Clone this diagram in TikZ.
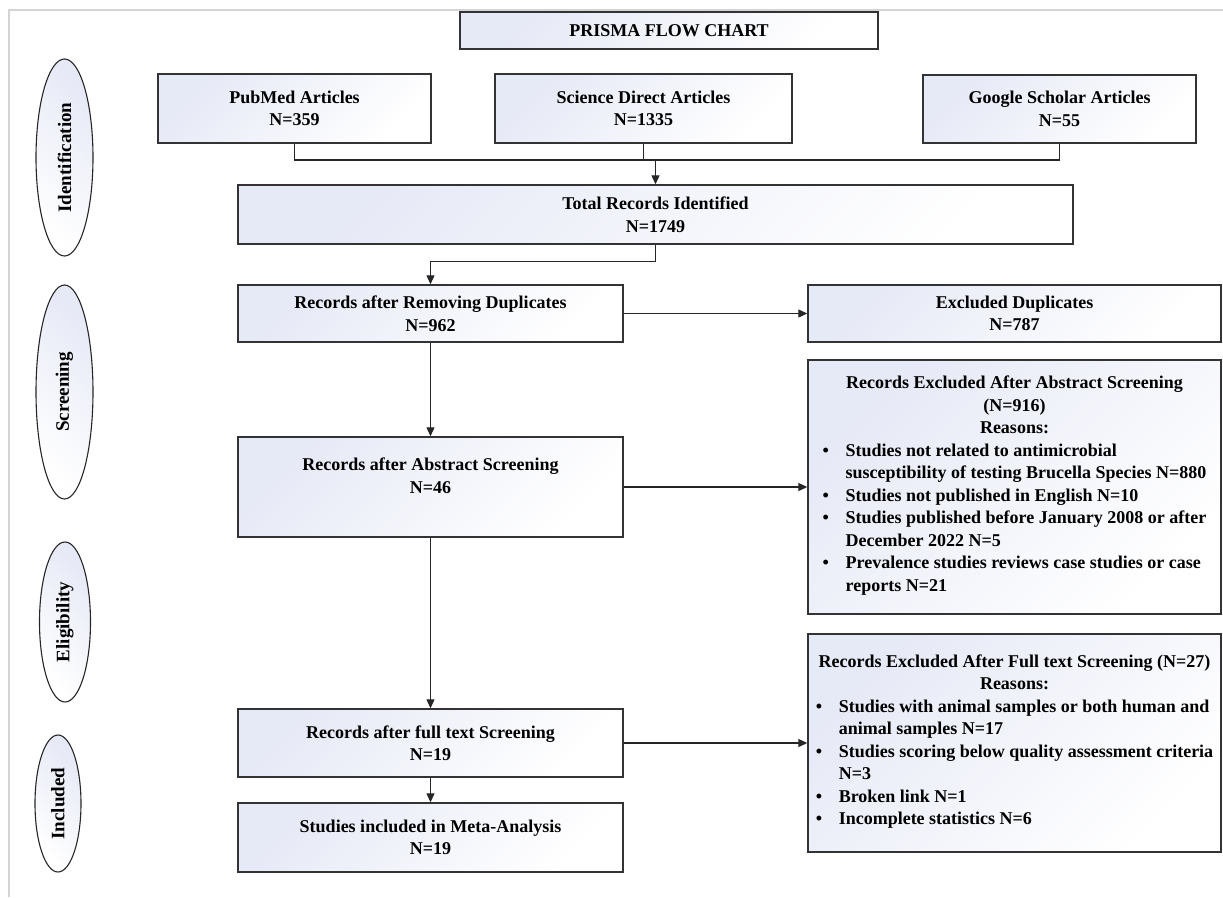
\documentclass[tikz,border=0pt]{standalone}
\usepackage{fontspec}
\setmainfont{Liberation Serif}
\usepackage{tikz}
\usetikzlibrary{arrows.meta, positioning, shapes.geometric, calc}

\definecolor{boxblue}{RGB}{230,233,246}
\definecolor{framegray}{RGB}{212,212,212}

\tikzset{
  flowbox/.style={draw=black!80, line width=1.4pt, top color=boxblue, bottom color=white, shading angle=45, inner sep=0pt, align=center},
  phase/.style={draw=black!85, line width=1.1pt, ellipse, rotate=90, top color=boxblue, bottom color=white, shading angle=-45, inner sep=0pt, font=\bfseries\fontsize{19}{23}\selectfont},
  link/.style={draw=black!85, line width=1.1pt},
  arr/.style={link, -{Triangle[width=8pt,length=9pt]}}
}

\begin{document}
\begin{tikzpicture}[x=1pt, y=-1pt, font=\bfseries\fontsize{18}{22.5}\selectfont]
      \useasboundingbox (0,0) rectangle (1223,897);
      % page frame
      \draw[framegray, line width=2pt] (9,897) -- (9,9.5) -- (1223,9.5);

      \node[flowbox, minimum width=418pt, minimum height=37pt] (title) at (669,30.5) {PRISMA FLOW CHART};

      \node[flowbox, minimum width=273pt, minimum height=69pt] (pubmed) at (294.5,108.5) {PubMed Articles\\N=359};
      \node[flowbox, minimum width=297pt, minimum height=69pt] (sd) at (643.5,108.5) {Science Direct Articles\\N=1335};
      \node[flowbox, minimum width=273pt, minimum height=68pt] (gs) at (1059.5,109) {Google Scholar Articles\\N=55};
      \node[flowbox, minimum width=835pt, minimum height=59pt] (total) at (655.5,214.5) {Total Records Identified\\N=1749};

      \node[flowbox, minimum width=385pt, minimum height=57pt] (dedup) at (430.5,313.5) {Records after Removing Duplicates\\N=962};
      \node[flowbox, minimum width=413pt, minimum height=57pt] (exdup) at (1014.5,313.5) {Excluded Duplicates\\N=787};
      \node[flowbox, minimum width=385pt, minimum height=100pt] (abstract) at (430.5,487) {Records after Abstract Screening\\N=46\\~};
      \node[flowbox, minimum width=413pt, minimum height=254pt] (exabstract) at (1014.5,487) {Records Excluded After Abstract Screening\\(N=916)\\Reasons:\\
        \begin{tabular}[t]{@{}p{23pt}@{}l@{}}
          \textbullet & Studies not related to antimicrobial\\
           & susceptibility of testing Brucella Species N=880\\
          \textbullet & Studies not published in English N=10\\
          \textbullet & Studies published before January 2008 or after\\
           & December 2022 N=5\\
          \textbullet & Prevalence studies reviews case studies or case\\
           & reports N=21
        \end{tabular}};
      \node[flowbox, minimum width=385pt, minimum height=68pt] (fulltext) at (430.5,743) {Records after full text Screening\\N=19};
      \node[flowbox, minimum width=413pt, minimum height=218pt] (exfulltext) at (1014.5,743) {Records Excluded After Full text Screening (N=27)\\Reasons:\\
        \begin{tabular}[t]{@{}p{23pt}@{}l@{}}
          \textbullet & Studies with animal samples or both human and\\
           & animal samples N=17\\
          \textbullet & Studies scoring below quality assessment criteria\\
           & N=3\\
          \textbullet & Broken link N=1\\
          \textbullet & Incomplete statistics N=6
        \end{tabular}};
      \node[flowbox, minimum width=385pt, minimum height=69pt] (meta) at (430.5,837.5) {Studies included in Meta-Analysis\\N=19};

      % phases
      \node[phase, minimum width=197pt, minimum height=57pt] (ident) at (64.5,157.5) {Identification};
      \node[phase, minimum width=214pt, minimum height=57pt] (screen) at (64.5,392) {Screening};
      \node[phase, minimum width=160pt, minimum height=51pt] (elig) at (65,622) {Eligibility};
      \node[phase, minimum width=137pt, minimum height=46pt] (incl) at (58,803.5) {Included};

      \coordinate (bus) at (655.5,160);
      \draw[link] (pubmed.south) |- (bus) -| (gs.south);
      \draw[link] (sd.south) -- (sd.south |- bus);
      \draw[arr] (bus) -- (total.north);
      \draw[arr] (total.south) -- ++(0,17) -| (dedup.north);
      \draw[arr] (dedup.east) -- (exdup.west);
      \draw[arr] (dedup.south) -- (abstract.north);
      \draw[arr] (abstract.east) -- (exabstract.west);
      \draw[arr] (abstract.south) -- (fulltext.north);
      \draw[arr] (fulltext.east) -- (exfulltext.west);
      \draw[arr] (fulltext.south) -- (meta.north);
    \end{tikzpicture}
\end{document}
